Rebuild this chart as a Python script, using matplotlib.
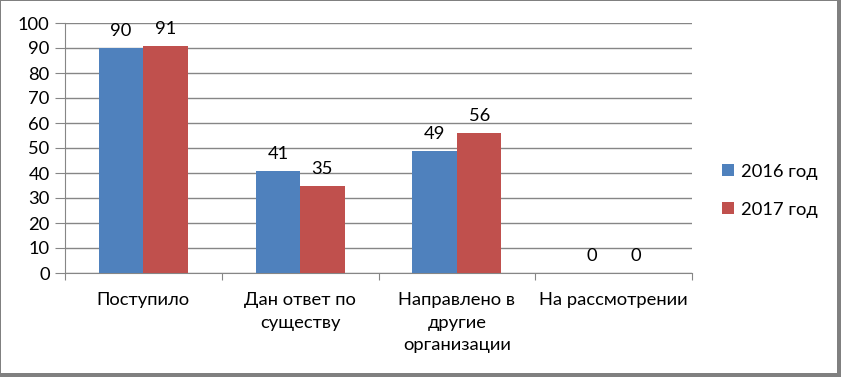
import numpy as np
import matplotlib.pyplot as plt
from matplotlib.patches import Rectangle

categories = ["Поступило", "Дан ответ по\nсуществу", "Направлено в\nдругие\nорганизации", "На рассмотрении"]
series_names = ["2016 год", "2017 год"]
values_2016 = [90, 41, 49, 0]
values_2017 = [91, 35, 56, 0]
colors = ["#4F81BD", "#C0504D"]

plt.rcParams['font.family'] = ['Lato', 'DejaVu Sans']
W, H = 841, 377
fig = plt.figure(figsize=(W / 100, H / 100), dpi=100)

# frame with shadow
fig.patches.append(Rectangle((0, 0), 1, 1, transform=fig.transFigure,
                             facecolor="#808080", edgecolor="none", zorder=-2))
fig.patches.append(Rectangle((1 / W, 4 / H), (W - 5) / W, (H - 5) / H, transform=fig.transFigure,
                             facecolor="white", edgecolor="none", zorder=-1))

ax = fig.add_axes([65 / W, 1 - 273 / H, (692 - 65) / W, (273 - 23) / H])
x = np.arange(len(categories))
bw = 0.284
fs = 13.2
for i, (vals, name) in enumerate(zip([values_2016, values_2017], series_names)):
    pos = x + (i - 0.5) * bw
    ax.bar(pos, vals, width=bw, color=colors[i], label=name, zorder=3)
    for p, v in zip(pos, vals):
        ax.text(p, v + 3.5, str(v), ha="center", va="bottom", fontsize=fs, color="black")

ax.set_xlim(-0.5, len(categories) - 0.5)
ax.set_ylim(0, 100)
ax.set_yticks(range(0, 101, 10))
ax.yaxis.grid(True, color="#868686", linewidth=1, zorder=0)
ax.set_axisbelow(True)
ax.set_xticks(np.arange(-0.5, len(categories), 1), minor=False)
ax.set_xticklabels([])
ax.set_xticks(x, minor=True)
ax.set_xticklabels(categories, minor=True, fontsize=fs, linespacing=1.5)
ax.tick_params(axis="x", which="major", length=5, color="#868686")
ax.tick_params(axis="x", which="minor", length=0, pad=14)
ax.tick_params(axis="y", length=7, color="#868686", labelsize=fs, pad=4)
for lab in ax.get_xticklabels(minor=True):
    lab.set_verticalalignment("top")
for s in ["top", "right"]:
    ax.spines[s].set_visible(False)
for s in ["left", "bottom"]:
    ax.spines[s].set_color("#868686")

ax.legend(loc="center left", bbox_to_anchor=(1.022, 0.33), frameon=False, fontsize=fs,
          handlelength=0.65, handleheight=0.65, handletextpad=0.35, labelspacing=1.2)

fig.savefig("out.png", dpi=100)
